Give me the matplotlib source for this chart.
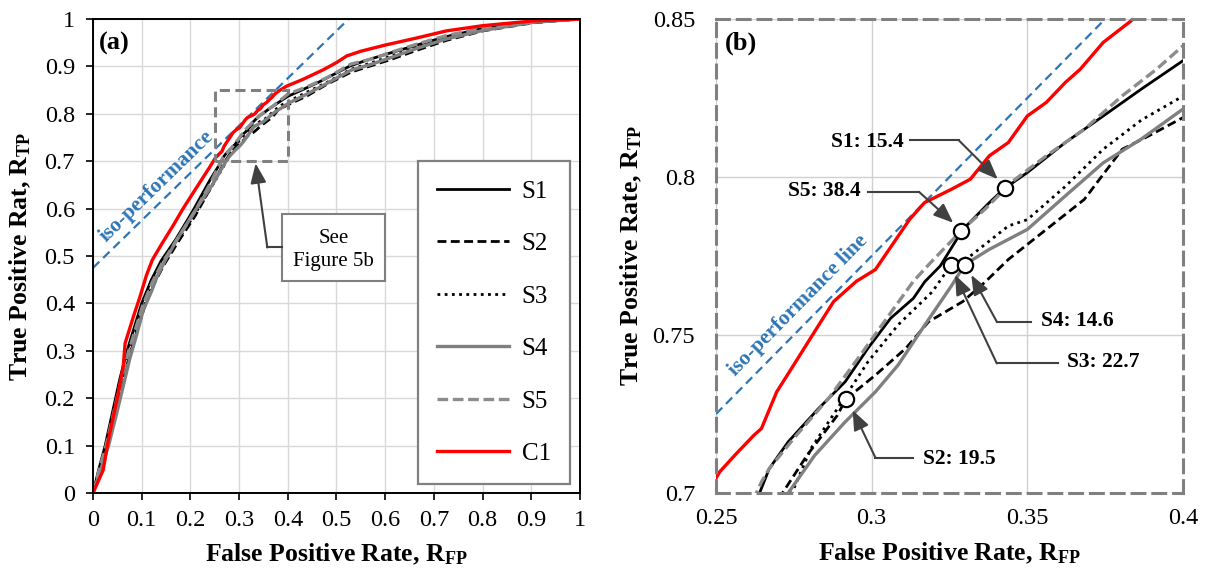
import matplotlib.pyplot as plt
from matplotlib.patches import Rectangle
from matplotlib.ticker import MultipleLocator, FuncFormatter

plt.rcParams['font.family'] = ['Liberation Serif', 'DejaVu Serif']
plt.rcParams['mathtext.fontset'] = 'custom'
plt.rcParams['mathtext.rm'] = 'Liberation Serif:bold'
plt.rcParams['mathtext.bf'] = 'Liberation Serif:bold'
plt.rcParams['mathtext.it'] = 'Liberation Serif:bold'

# ROC curves (false positive rate, true positive rate)
s1_fpr = [0, 0.012, 0.025, 0.04, 0.055, 0.07, 0.085, 0.10, 0.12, 0.14, 0.17, 0.205, 0.24,
          0.264, 0.2671, 0.2732, 0.2829, 0.2915, 0.2988, 0.3061, 0.3134, 0.3171, 0.322, 0.3293,
          0.3378, 0.3427, 0.35, 0.3622, 0.3744, 0.3866, 0.4, 0.435, 0.466, 0.528, 0.562, 0.603,
          0.665, 0.726, 0.801, 0.904, 1.0]
s1_tpr = [0, 0.05, 0.10, 0.17, 0.24, 0.30, 0.35, 0.40, 0.45, 0.49, 0.535, 0.595, 0.66,
          0.700, 0.7077, 0.7162, 0.7267, 0.7352, 0.7458, 0.7553, 0.7616, 0.7669, 0.7718, 0.7834,
          0.7919, 0.7964, 0.8014, 0.8109, 0.8193, 0.8278, 0.8368, 0.853, 0.868, 0.901, 0.913, 0.926,
          0.945, 0.963, 0.980, 0.994, 1.0]

s2_fpr = [0, 0.015, 0.03, 0.045, 0.06, 0.075, 0.09, 0.105, 0.125, 0.145, 0.175, 0.21, 0.245,
          0.2707, 0.2793, 0.289, 0.2917, 0.3012, 0.311, 0.3183, 0.3293, 0.3366, 0.3439, 0.3561,
          0.3683, 0.3805, 0.389, 0.4, 0.44, 0.48, 0.53, 0.57, 0.61, 0.665, 0.726, 0.801, 0.904, 1.0]
s2_tpr = [0, 0.05, 0.10, 0.165, 0.23, 0.29, 0.34, 0.39, 0.44, 0.48, 0.53, 0.585, 0.65,
          0.699, 0.712, 0.7246, 0.7297, 0.7373, 0.7458, 0.7542, 0.7606, 0.7669, 0.7739, 0.7834,
          0.7929, 0.8088, 0.813, 0.8188, 0.838, 0.862, 0.888, 0.901, 0.914, 0.934, 0.955, 0.975, 0.992, 1.0]

s3_fpr = [0, 0.014, 0.028, 0.043, 0.058, 0.073, 0.088, 0.103, 0.123, 0.143, 0.172, 0.207, 0.243,
          0.2744, 0.2805, 0.289, 0.2988, 0.3085, 0.3195, 0.3256, 0.3317, 0.3439, 0.35, 0.3622,
          0.3744, 0.3866, 0.4, 0.44, 0.48, 0.53, 0.57, 0.61, 0.665, 0.726, 0.801, 0.904, 1.0]
s3_tpr = [0, 0.05, 0.10, 0.165, 0.23, 0.29, 0.34, 0.39, 0.44, 0.48, 0.53, 0.585, 0.645,
          0.70, 0.7141, 0.7267, 0.7415, 0.7532, 0.7637, 0.7723, 0.775, 0.7845, 0.7865, 0.797,
          0.8088, 0.818, 0.8256, 0.846, 0.866, 0.894, 0.907, 0.921, 0.940, 0.960, 0.978, 0.993, 1.0]

s4_fpr = [0, 0.016, 0.032, 0.048, 0.062, 0.076, 0.09, 0.103, 0.12, 0.131, 0.148, 0.172, 0.206, 0.245,
          0.2732, 0.2817, 0.2915, 0.3012, 0.3085, 0.3171, 0.3256, 0.3299, 0.3378, 0.35, 0.3622,
          0.3744, 0.3866, 0.4, 0.44, 0.48, 0.53, 0.57, 0.61, 0.665, 0.726, 0.801, 0.904, 1.0]
s4_tpr = [0, 0.05, 0.10, 0.165, 0.225, 0.285, 0.335, 0.385, 0.425, 0.455, 0.49, 0.534, 0.59, 0.65,
          0.70, 0.7119, 0.7225, 0.732, 0.7405, 0.7532, 0.7655, 0.7723, 0.7771, 0.7834, 0.794,
          0.8045, 0.812, 0.8215, 0.842, 0.864, 0.892, 0.904, 0.918, 0.938, 0.958, 0.976, 0.993, 1.0]

s5_fpr = [0, 0.013, 0.027, 0.042, 0.057, 0.072, 0.087, 0.102, 0.122, 0.142, 0.171, 0.207, 0.242,
          0.2646, 0.2671, 0.2756, 0.2866, 0.2963, 0.3061, 0.3134, 0.3195, 0.3287, 0.3366, 0.3451,
          0.3561, 0.3683, 0.3805, 0.3915, 0.4, 0.44, 0.48, 0.53, 0.57, 0.61, 0.665, 0.726, 0.801,
          0.904, 1.0]
s5_tpr = [0, 0.05, 0.10, 0.167, 0.235, 0.295, 0.345, 0.395, 0.445, 0.485, 0.532, 0.59, 0.655,
          0.7035, 0.7077, 0.718, 0.7305, 0.7435, 0.757, 0.767, 0.7735, 0.7829, 0.79, 0.7985,
          0.8067, 0.8151, 0.8257, 0.8341, 0.8415, 0.857, 0.876, 0.905, 0.915, 0.929, 0.947, 0.965, 0.981,
          0.995, 1.0]

c1_fpr = [0, 0.021, 0.0315, 0.049, 0.062, 0.066, 0.083, 0.0965, 0.110, 0.122, 0.141, 0.165, 0.185,
          0.213, 0.240, 0.2512, 0.2561, 0.2622, 0.2646, 0.2695, 0.2756, 0.2817, 0.2878, 0.2951,
          0.3012, 0.3122, 0.317, 0.3256, 0.3317, 0.3378, 0.3439, 0.35, 0.3561, 0.3622, 0.367,
          0.3744, 0.3841, 0.398, 0.432, 0.473, 0.50, 0.521, 0.55, 0.60, 0.665, 0.726, 0.801, 0.904, 1.0]
c1_tpr = [0, 0.0485, 0.112, 0.196, 0.266, 0.316, 0.372, 0.414, 0.460, 0.492, 0.525, 0.565, 0.600,
          0.645, 0.688, 0.7067, 0.712, 0.7183, 0.7204, 0.732, 0.7415, 0.7511, 0.7606, 0.767,
          0.7707, 0.7866, 0.7919, 0.7961, 0.7993, 0.8067, 0.8109, 0.8193, 0.8236, 0.8299, 0.8341,
          0.8426, 0.85, 0.8585, 0.873, 0.893, 0.908, 0.922, 0.932, 0.945, 0.960, 0.975, 0.986, 0.996, 1.0]

# operating points picked on S1..S5 and their threshold values
point_names = ['S1', 'S2', 'S3', 'S4', 'S5']
point_fpr = [0.3427, 0.2917, 0.3256, 0.3299, 0.3287]
point_tpr = [0.7964, 0.7297, 0.7723, 0.7723, 0.7829]
point_value = [15.4, 19.5, 22.7, 14.6, 38.4]

iso_intercept = 0.475   # iso-performance line, slope 1
zoom_fpr = (0.25, 0.4)
zoom_tpr = (0.7, 0.85)

series = [
    ('S1', s1_fpr, s1_tpr, dict(color='black', lw=2.0, ls='-')),
    ('S2', s2_fpr, s2_tpr, dict(color='black', lw=2.0, ls=(0, (3.2, 1.6)))),
    ('S3', s3_fpr, s3_tpr, dict(color='black', lw=2.0, ls=(0, (1, 1.6)))),
    ('S4', s4_fpr, s4_tpr, dict(color='#808080', lw=2.4, ls='-')),
    ('S5', s5_fpr, s5_tpr, dict(color='#8c8c8c', lw=2.4, ls=(0, (3.2, 1.4)))),
    ('C1', c1_fpr, c1_tpr, dict(color='#ff0000', lw=2.4, ls='-')),
]

fig = plt.figure(figsize=(12.06, 5.69), dpi=100)
ax1 = fig.add_axes([0.0771, 0.1336, 0.4038, 0.833])
ax2 = fig.add_axes([0.5937, 0.1336, 0.3872, 0.833])

fmt = FuncFormatter(lambda v, p: f'{v:g}')
arrow_col = '#404040'
blue = '#2e75b6'
label_size = 18.5
tick_size = 17.5

for ax in (ax1, ax2):
    for name, fpr, tpr, st in series:
        ax.plot(fpr, tpr, label=name, **st)
    ax.axline((0, iso_intercept), slope=1, color=blue, lw=1.6, ls=(0, (4, 2.4)), zorder=1.5)
    ax.xaxis.set_major_formatter(fmt)
    ax.yaxis.set_major_formatter(fmt)
    ax.set_axisbelow(True)
    ax.set_xlabel('False Positive Rate, R$_{\\mathrm{FP}}$', fontsize=label_size, fontweight='bold', labelpad=8)

# panel (a): full ROC space
ax1.set_xlim(0, 1)
ax1.set_ylim(0, 1)
ax1.xaxis.set_major_locator(MultipleLocator(0.1))
ax1.yaxis.set_major_locator(MultipleLocator(0.1))
ax1.grid(True, color='#d9d9d9', lw=1.0)
ax1.tick_params(labelsize=tick_size, length=5, width=1.2, direction='out')
ax1.tick_params(axis='x', pad=7)
ax1.tick_params(axis='y', pad=8)
for s in ax1.spines.values():
    s.set_linewidth(1.4)
ax1.set_ylabel('True Positive Rat, R$_{\\mathrm{TP}}$', fontsize=label_size, fontweight='bold', labelpad=8)
ax1.text(0.013, 0.949, '(a)', transform=ax1.transAxes, fontsize=19, fontweight='bold', va='center')
ax1.text(0.13, 0.647, 'iso-performance', color=blue, fontsize=15.5, fontweight='bold',
         rotation=44.2, ha='center', va='center', rotation_mode='anchor')

ax1.add_patch(Rectangle((zoom_fpr[0], zoom_tpr[0]), zoom_fpr[1] - zoom_fpr[0], zoom_tpr[1] - zoom_tpr[0],
                        fill=False, ec='#808080', lw=2.2, ls=(0, (3.3, 1.8)), zorder=4))
ax1.add_patch(Rectangle((0.389, 0.447), 0.211, 0.141, fc='white', ec='#808080', lw=1.5, zorder=5))
ax1.text(0.4945, 0.513, 'See\nFigure 5b', ha='center', va='center', fontsize=15,
         linespacing=1.3, zorder=6)
ax1.plot([0.389, 0.358], [0.518, 0.518], color=arrow_col, lw=1.5, zorder=5)
ax1.annotate('', xy=(0.334, 0.6955), xytext=(0.358, 0.518),
             arrowprops=dict(arrowstyle='-|>,head_length=0.8,head_width=0.32', color=arrow_col,
                             lw=1.5, shrinkA=0, shrinkB=0, mutation_scale=15), zorder=5)

leg = ax1.legend(loc='lower right', bbox_to_anchor=(0.979, 0.019), fontsize=18, handlelength=2.9,
                 handletextpad=0.5, labelspacing=1.2, borderpad=0.75, borderaxespad=0,
                 fancybox=False, framealpha=1, edgecolor='#808080')
leg.get_frame().set_linewidth(1.6)

# panel (b): close-up around the operating points
ax2.set_xlim(*zoom_fpr)
ax2.set_ylim(*zoom_tpr)
ax2.xaxis.set_major_locator(MultipleLocator(0.05))
ax2.yaxis.set_major_locator(MultipleLocator(0.05))
ax2.grid(True, color='#d0d0d0', lw=1.0)
ax2.tick_params(labelsize=tick_size, length=0)
ax2.tick_params(axis='x', pad=11)
ax2.tick_params(axis='y', pad=15)
for s in ax2.spines.values():
    s.set_color('#808080')
    s.set_linewidth(2.2)
    s.set_linestyle((0, (4.2, 2.6)))
ax2.set_ylabel('True Positive Rate, R$_{\\mathrm{TP}}$', fontsize=label_size, fontweight='bold', labelpad=6)
ax2.text(0.02, 0.949, '(b)', transform=ax2.transAxes, fontsize=19, fontweight='bold', va='center')
ax2.text(0.2765, 0.7594, 'iso-performance line', color=blue, fontsize=15.5, fontweight='bold',
         rotation=45.5, ha='center', va='center', rotation_mode='anchor')

ax2.plot(point_fpr, point_tpr, 'o', ms=11, mfc='white', mec='black', mew=1.6, zorder=6)

# callouts: text anchor, alignment, elbow start, elbow end, arrow tip
callouts = {
    'S1': ((0.3104, 0.8112), 'right', (0.3122, 0.8116), (0.3280, 0.8116), (0.3405, 0.7993)),
    'S5': ((0.2963, 0.7956), 'right', (0.2988, 0.7953), (0.3152, 0.7953), (0.3262, 0.7855)),
    'S4': ((0.3543, 0.7545), 'left', (0.3512, 0.7542), (0.3402, 0.7542), (0.3320, 0.7690)),
    'S3': ((0.3628, 0.7413), 'left', (0.3598, 0.7410), (0.3402, 0.7410), (0.3268, 0.7690)),
    'S2': ((0.3165, 0.7109), 'left', (0.3134, 0.7112), (0.3012, 0.7112), (0.2939, 0.7262)),
}
for name, val in zip(point_names, point_value):
    (tx, ty), ha, p0, p1, tip = callouts[name]
    ax2.text(tx, ty, f'{name}: {val}', ha=ha, va='center', fontsize=15.5, fontweight='bold', zorder=7)
    ax2.plot([p0[0], p1[0]], [p0[1], p1[1]], color=arrow_col, lw=1.5, zorder=7)
    ax2.annotate('', xy=tip, xytext=p1,
                 arrowprops=dict(arrowstyle='-|>,head_length=0.8,head_width=0.32', color=arrow_col,
                                 lw=1.5, shrinkA=0, shrinkB=0, mutation_scale=15), zorder=7)

fig.savefig('out.png', dpi=100)
